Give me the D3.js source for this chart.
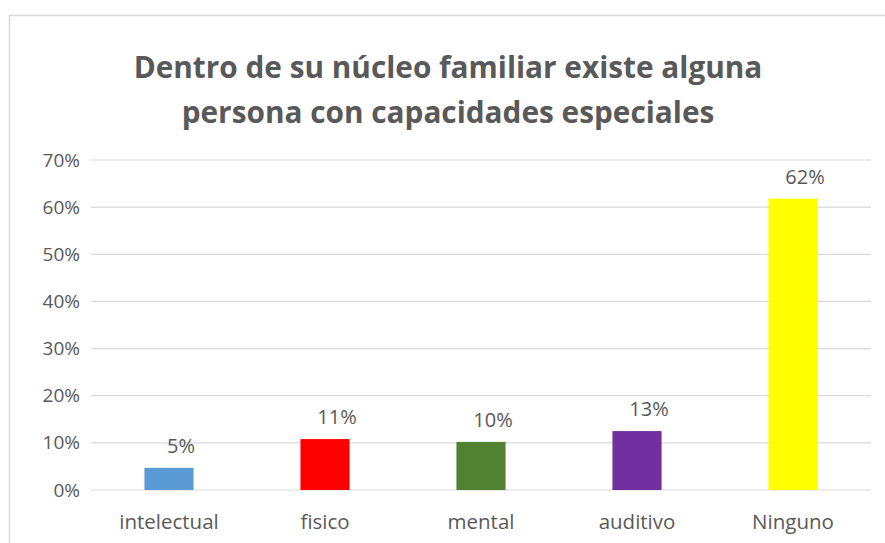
<!DOCTYPE html>
<html>
<head>
<meta charset="utf-8">
<script src="https://cdn.jsdelivr.net/npm/d3@7"></script>
<style>
  body { margin: 0; background: #fff; }
  text { font-family: 'Open Sans', sans-serif; fill: #595959; }
</style>
</head>
<body>
<div class="chart"></div>
<script>
const categories = ['intelectual', 'fisico', 'mental', 'auditivo', 'Ninguno'];
const values = [0.047, 0.108, 0.102, 0.125, 0.618];
const valueLabels = ['5%', '11%', '10%', '13%', '62%'];
const barColors = ['#5B9BD5', '#FF0000', '#548235', '#7030A0', '#FFFF00'];
const yTicks = [0, 0.1, 0.2, 0.3, 0.4, 0.5, 0.6, 0.7];
const titleLines = ['Dentro de su núcleo familiar existe alguna', 'persona con capacidades especiales'];

const W = 885, H = 543;
const margin = { top: 160, right: 14, bottom: 53, left: 91 };
const width = W - margin.left - margin.right;
const height = H - margin.top - margin.bottom;

const root = d3.select('.chart')
  .append('svg')
    .attr('width', W)
    .attr('height', H);

// chart area border (only top and left visible in the picture)
root.append('path')
  .attr('d', `M9.5,${H} V15.5 H${W}`)
  .attr('fill', 'none')
  .attr('stroke', '#d9d9d9')
  .attr('stroke-width', 1.5);

// title
const title = root.append('g');
titleLines.forEach((t, i) => {
  title.append('text')
    .attr('x', 448)
    .attr('y', 78 + i * 45)
    .attr('text-anchor', 'middle')
    .style('font-weight', 'bold')
    .style('font-size', '26px')
    .text(t);
});
// fit the first line to the reference width
const w0 = title.select('text').node().getComputedTextLength();
const fs = 26 * 629 / w0;
title.selectAll('text').style('font-size', fs + 'px');

const svg = root.append('g')
  .attr('transform', `translate(${margin.left}, ${margin.top})`);

const x = d3.scaleBand()
  .domain(categories)
  .range([0, width])
  .paddingInner(0.685)
  .paddingOuter(0.3425);

const y = d3.scaleLinear()
  .domain([0, 0.7])
  .range([height, 0]);

// gridlines
svg.append('g')
  .selectAll('line')
  .data(yTicks)
  .join('line')
    .attr('x1', 0)
    .attr('x2', width)
    .attr('y1', d => y(d))
    .attr('y2', d => y(d))
    .attr('stroke', '#d9d9d9')
    .attr('stroke-width', 1.2);

// y axis labels
const yAxis = svg.append('g')
  .call(d3.axisLeft(y).tickValues(yTicks).tickFormat(d3.format('.0%')).tickSize(0).tickPadding(11));
yAxis.select('.domain').remove();
yAxis.selectAll('text').style('font-size', '19px').style('fill', '#595959').attr('font-family', null);

// x axis labels
const xAxis = svg.append('g')
  .attr('transform', `translate(0, ${height})`)
  .call(d3.axisBottom(x).tickSize(0).tickPadding(24));
xAxis.select('.domain').remove();
xAxis.selectAll('text').style('font-size', '20.5px').style('fill', '#595959').attr('font-family', null);

// bars
svg.selectAll('.bar')
  .data(values)
  .join('rect')
    .attr('class', 'bar')
    .attr('x', (d, i) => x(categories[i]))
    .attr('width', x.bandwidth())
    .attr('y', d => y(d))
    .attr('height', d => height - y(d))
    .attr('fill', (d, i) => barColors[i]);

// value labels
svg.selectAll('.lbl')
  .data(values)
  .join('text')
    .attr('class', 'lbl')
    .attr('x', (d, i) => x(categories[i]) + x.bandwidth() / 2 + 12)
    .attr('y', d => y(d) - 15)
    .attr('text-anchor', 'middle')
    .style('font-size', '20px')
    .text((d, i) => valueLabels[i]);
</script>
</body>
</html>
